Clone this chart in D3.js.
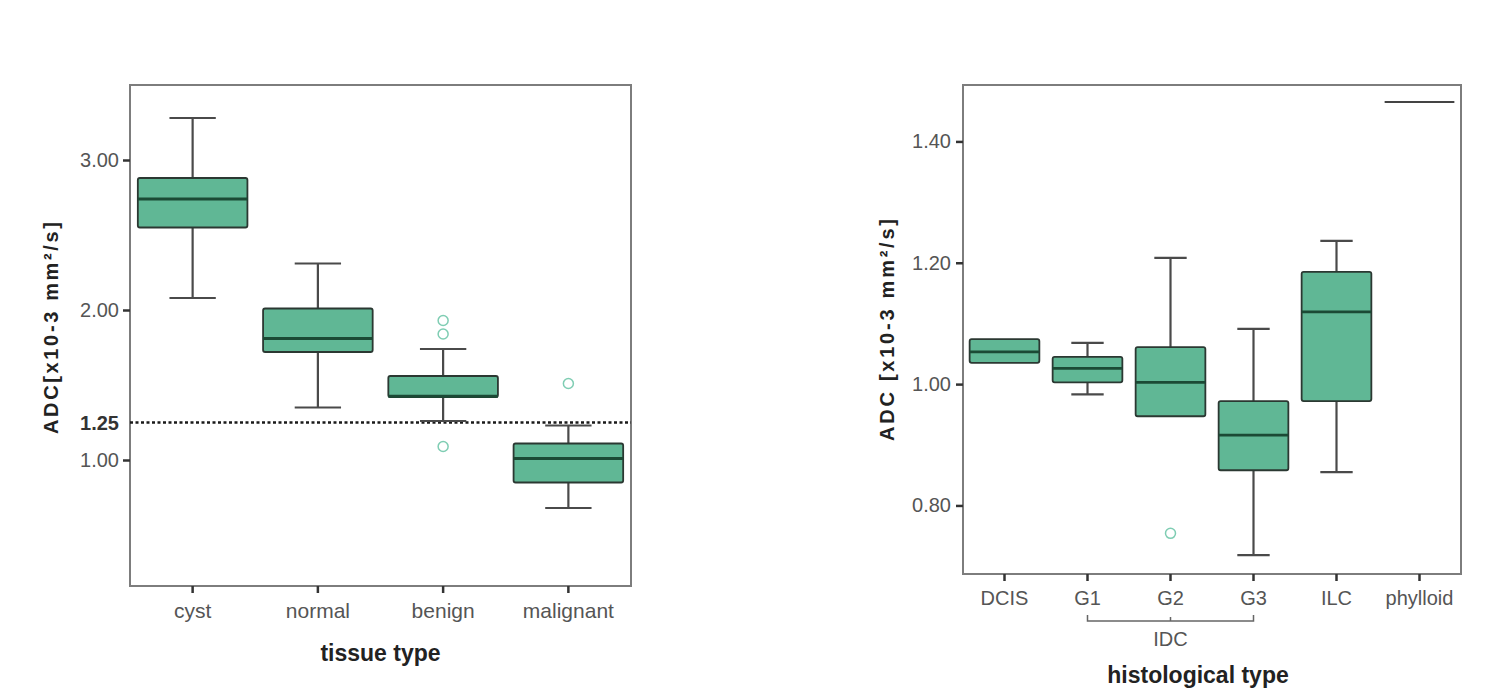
<!DOCTYPE html>
<html lang="en">
<head>
    <meta charset="UTF-8">
    <script src="https://d3js.org/d3.v7.min.js"></script>
    <style>
        body { margin: 0; background: #fff; }
        text { font-family: "Liberation Sans", Arial, sans-serif; }
    </style>
</head>
<body>
<div id="chart"></div>
<script>
    // left panel: tissue type
    var tissueCats = ["cyst", "normal", "benign", "malignant"];
    var tissueLow  = [2.08, 1.35, 1.26, 0.68];
    var tissueQ1   = [2.55, 1.72, 1.42, 0.85];
    var tissueMed  = [2.74, 1.81, 1.425, 1.01];
    var tissueQ3   = [2.88, 2.01, 1.56, 1.11];
    var tissueHigh = [3.28, 2.31, 1.74, 1.23];
    var tissueOut  = [[], [], [1.93, 1.84, 1.09], [1.51]];
    var tissueTicks = [1.00, 2.00, 3.00];
    var cutoff = 1.25;

    // right panel: histological type
    var histCats = ["DCIS", "G1", "G2", "G3", "ILC", "phylloid"];
    var histLow  = [1.035, 0.983, 0.947, 0.718, 0.855, 1.465];
    var histQ1   = [1.035, 1.003, 0.947, 0.858, 0.972, 1.465];
    var histMed  = [1.053, 1.026, 1.003, 0.916, 1.119, 1.465];
    var histQ3   = [1.074, 1.045, 1.061, 0.972, 1.185, 1.465];
    var histHigh = [1.074, 1.068, 1.208, 1.091, 1.236, 1.465];
    var histOut  = [[], [], [0.754], [], [], []];
    var histTicks = [0.80, 1.00, 1.20, 1.40];
    var idcGroup = ["G1", "G2", "G3"];

    var fillColor = "#60b795", edgeColor = "#2b3832", medColor = "#1b4a35",
        whiskColor = "#4a4a4a", outColor = "#7fcdb3", frameColor = "#7d7d7d";

    var svg = d3.select("#chart").append("svg")
        .attr("width", 1506).attr("height", 690);

    function makeBoxes(g, cats, low, q1, med, q3, high, outs, x, y, boxFrac, capFrac) {
        var bw = x.bandwidth() * boxFrac, cw = x.bandwidth() * capFrac;
        cats.forEach(function(c, i) {
            var cx = x(c) + x.bandwidth() / 2;
            if (q1[i] === q3[i]) {
                g.append("line")
                    .attr("x1", cx - bw / 2).attr("x2", cx + bw / 2)
                    .attr("y1", y(med[i])).attr("y2", y(med[i]))
                    .attr("stroke", "#444").attr("stroke-width", 2.2);
                return;
            }
            // whiskers
            [[low[i], q1[i]], [high[i], q3[i]]].forEach(function(w) {
                if (w[0] === w[1]) return;
                g.append("line").attr("x1", cx).attr("x2", cx)
                    .attr("y1", y(w[0])).attr("y2", y(w[1]))
                    .attr("stroke", whiskColor).attr("stroke-width", 2.2);
                g.append("line").attr("x1", cx - cw / 2).attr("x2", cx + cw / 2)
                    .attr("y1", y(w[0])).attr("y2", y(w[0]))
                    .attr("stroke", whiskColor).attr("stroke-width", 2.2);
            });
            g.append("rect")
                .attr("x", cx - bw / 2).attr("width", bw)
                .attr("y", y(q3[i])).attr("height", y(q1[i]) - y(q3[i]))
                .attr("rx", 2)
                .attr("fill", fillColor).attr("stroke", edgeColor).attr("stroke-width", 1.8);
            g.append("line")
                .attr("x1", cx - bw / 2).attr("x2", cx + bw / 2)
                .attr("y1", y(med[i])).attr("y2", y(med[i]))
                .attr("stroke", medColor).attr("stroke-width", 2.8);
            outs[i].forEach(function(v) {
                g.append("circle").attr("cx", cx).attr("cy", y(v)).attr("r", 5)
                    .attr("fill", "none").attr("stroke", outColor).attr("stroke-width", 1.5);
            });
        });
    }

    function frame(g, x0, x1, y0, y1) {
        g.append("rect").attr("x", x0).attr("y", y0)
            .attr("width", x1 - x0).attr("height", y1 - y0)
            .attr("fill", "none").attr("stroke", frameColor).attr("stroke-width", 2);
    }

    function styleAxis(ax) {
        ax.select(".domain").remove();
        ax.selectAll(".tick line").attr("stroke", "#333").attr("stroke-width", 2.5);
        ax.selectAll(".tick text").attr("fill", "#555").style("font-size", "20px");
    }

    // ---- left panel ----
    var L = {x0: 130, x1: 631, y0: 85, y1: 586};
    var xL = d3.scaleBand().domain(tissueCats).range([L.x0, L.x1]);
    var yL = d3.scaleLinear().domain([0.16, 3.5]).range([L.y1, L.y0]);
    var gL = svg.append("g");

    frame(gL, L.x0, L.x1, L.y0, L.y1);

    var ayL = gL.append("g").attr("transform", "translate(" + L.x0 + ",0)")
        .call(d3.axisLeft(yL).tickValues(tissueTicks).tickSize(7).tickPadding(4).tickFormat(d3.format(".2f")));
    styleAxis(ayL);
    gL.append("text").attr("x", L.x0 - 11).attr("y", yL(cutoff)).attr("dy", "0.35em")
        .attr("text-anchor", "end").attr("font-weight", "bold").attr("fill", "#333")
        .style("font-size", "20px").text(d3.format(".2f")(cutoff));

    var axL = gL.append("g").attr("transform", "translate(0," + L.y1 + ")")
        .call(d3.axisBottom(xL).tickSize(7).tickPadding(10));
    styleAxis(axL);
    axL.selectAll(".tick text").style("font-size", "21px");

    gL.append("line").attr("x1", L.x0).attr("x2", L.x1)
        .attr("y1", yL(cutoff)).attr("y2", yL(cutoff))
        .attr("stroke", "#1a1a1a").attr("stroke-width", 2.4).attr("stroke-dasharray", "3,2.5");

    makeBoxes(gL, tissueCats, tissueLow, tissueQ1, tissueMed, tissueQ3, tissueHigh, tissueOut, xL, yL, 0.875, 0.37);

    gL.append("text").attr("transform", "translate(58,328) rotate(-90)")
        .attr("text-anchor", "middle").attr("font-weight", "bold").attr("fill", "#222")
        .attr("textLength", 212).attr("lengthAdjust", "spacing")
        .style("font-size", "20px").text("ADC[x10-3 mm²/s]");
    gL.append("text").attr("x", (L.x0 + L.x1) / 2).attr("y", 661)
        .attr("text-anchor", "middle").attr("font-weight", "bold").attr("fill", "#222")
        .style("font-size", "23px").text("tissue type");

    // ---- right panel ----
    var R = {x0: 963, x1: 1461, y0: 85, y1: 574};
    var xR = d3.scaleBand().domain(histCats).range([R.x0, R.x1]);
    var yR = d3.scaleLinear().domain([0.687, 1.493]).range([R.y1, R.y0]);
    var gR = svg.append("g");

    frame(gR, R.x0, R.x1, R.y0, R.y1);

    var ayR = gR.append("g").attr("transform", "translate(" + R.x0 + ",0)")
        .call(d3.axisLeft(yR).tickValues(histTicks).tickSize(7).tickPadding(5).tickFormat(d3.format(".2f")));
    styleAxis(ayR);

    var axR = gR.append("g").attr("transform", "translate(0," + R.y1 + ")")
        .call(d3.axisBottom(xR).tickSize(7).tickPadding(10));
    styleAxis(axR);
    axR.selectAll(".tick text").style("font-size", "20px");

    makeBoxes(gR, histCats, histLow, histQ1, histMed, histQ3, histHigh, histOut, xR, yR, 0.84, 0.39);

    // IDC bracket
    var bx0 = xR(idcGroup[0]) + xR.bandwidth() / 2,
        bx1 = xR(idcGroup[2]) + xR.bandwidth() / 2,
        bxm = xR(idcGroup[1]) + xR.bandwidth() / 2, by = 621;
    gR.append("path")
        .attr("d", "M" + bx0 + "," + (by - 6) + "V" + by + "H" + bx1 + "V" + (by - 6) +
                   "M" + bxm + "," + by + "V" + (by - 4))
        .attr("fill", "none").attr("stroke", "#666").attr("stroke-width", 1.5);
    gR.append("text").attr("x", bxm).attr("y", 646).attr("text-anchor", "middle")
        .attr("fill", "#555").style("font-size", "20px").text("IDC");

    gR.append("text").attr("transform", "translate(894,330) rotate(-90)")
        .attr("text-anchor", "middle").attr("font-weight", "bold").attr("fill", "#222")
        .attr("textLength", 222).attr("lengthAdjust", "spacing")
        .style("font-size", "20px").text("ADC [x10-3 mm²/s]");
    gR.append("text").attr("x", 1198).attr("y", 683)
        .attr("text-anchor", "middle").attr("font-weight", "bold").attr("fill", "#222")
        .style("font-size", "23px").text("histological type");
</script>
</body>
</html>
